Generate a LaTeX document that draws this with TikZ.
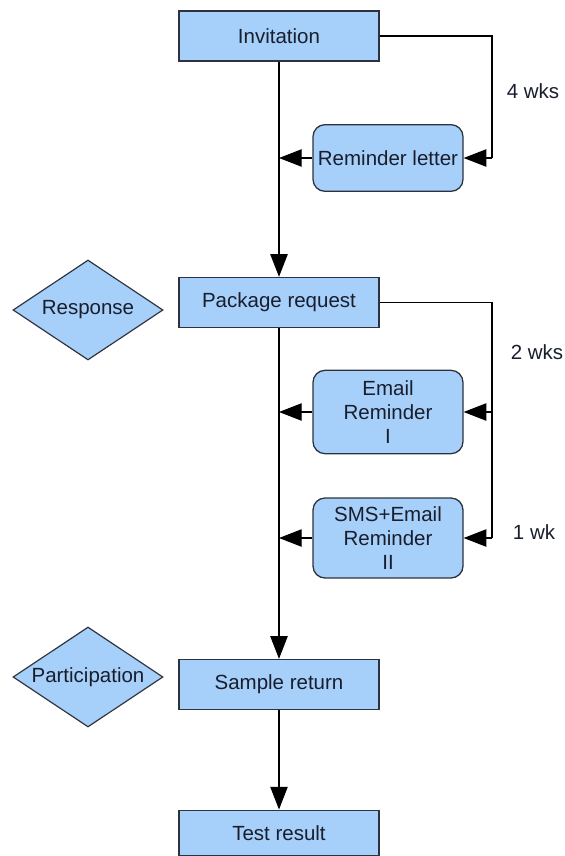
\documentclass[tikz,border=0pt]{standalone}
\usepackage{fontspec}
\setmainfont{Liberation Sans}
\usepackage{tikz}
\usetikzlibrary{positioning,arrows.meta,calc,shapes.geometric}
\definecolor{boxfill}{RGB}{166,207,250}
\definecolor{boxline}{RGB}{45,50,62}
\definecolor{txtcol}{RGB}{25,30,45}

\begin{document}
\begin{tikzpicture}[
  x=0.3mm, y=-0.3mm,
  font=\fontsize{17.5}{20.5}\selectfont,
  stepbox/.style={draw=boxline, line width=1.1pt, fill=boxfill, text=txtcol, minimum width=60mm, minimum height=15mm, inner sep=0pt},
  remind/.style={draw=boxline, line width=1.1pt, fill=boxfill, text=txtcol, rounded corners=3.6mm, align=center, minimum width=45mm, inner sep=0pt},
  outcome/.style={diamond, aspect=1.5, draw=boxline, line width=1pt, fill=boxfill, text=txtcol, minimum width=45mm, minimum height=30mm, inner sep=0pt},
  ar/.style={-{Triangle[length=6.8mm, width=5.2mm]}, line width=1pt, black},
  ln/.style={line width=1pt, black},
  lbl/.style={text=txtcol, inner sep=0pt},
]
\useasboundingbox (0,0) rectangle (564,856);
\def\xm{279} \def\xr{388} \def\xd{88} \def\xl{492}
% main column
\node[stepbox] (inv) at (\xm,36) {Invitation};
\node[stepbox] (pkg) at (\xm,302.5) {Package request};
\node[stepbox] (smp) at (\xm,684.5) {Sample return};
\node[stepbox, minimum height=13.7mm] (tst) at (\xm,833) {Test result};
% outcomes
\node[outcome] (rsp) at (\xd,310) {Response};
\node[outcome] (prt) at (\xd,677) {Participation};
% reminders
\node[remind, minimum height=20mm] (rem) at (\xr,158) {Reminder letter};
\node[remind, minimum height=25mm] (em1) at (\xr,412) {Email\\Reminder\\I};
\node[remind, minimum height=24mm] (em2) at (\xr,538) {SMS+Email\\Reminder\\II};
% timing
\coordinate (t1) at (\xl,158);
\coordinate (t2) at (\xl,412);
\coordinate (t3) at (\xl,538);
\node[lbl] (w4) at (533,91) {4 wks};
\node[lbl] (w2) at (537,352) {2 wks};
\node[lbl] (w1) at (534,532) {1 wk};
% arrows
\draw[ar] (inv.south) -- (pkg.north);
\draw[ar] (pkg.south) -- (smp.north);
\draw[ar] (smp.south) -- (tst.north);
\draw[ln] (inv.east) -| (t1);
\draw[ln] (pkg.east) -| (t3);
\foreach \r/\s in {rem/t1, em1/t2, em2/t3}{ \draw[ar] (\s) -- (\r.east); \draw[ar] (\r.west) -- (\r.west -| inv.south);}
\end{tikzpicture}
\end{document}
